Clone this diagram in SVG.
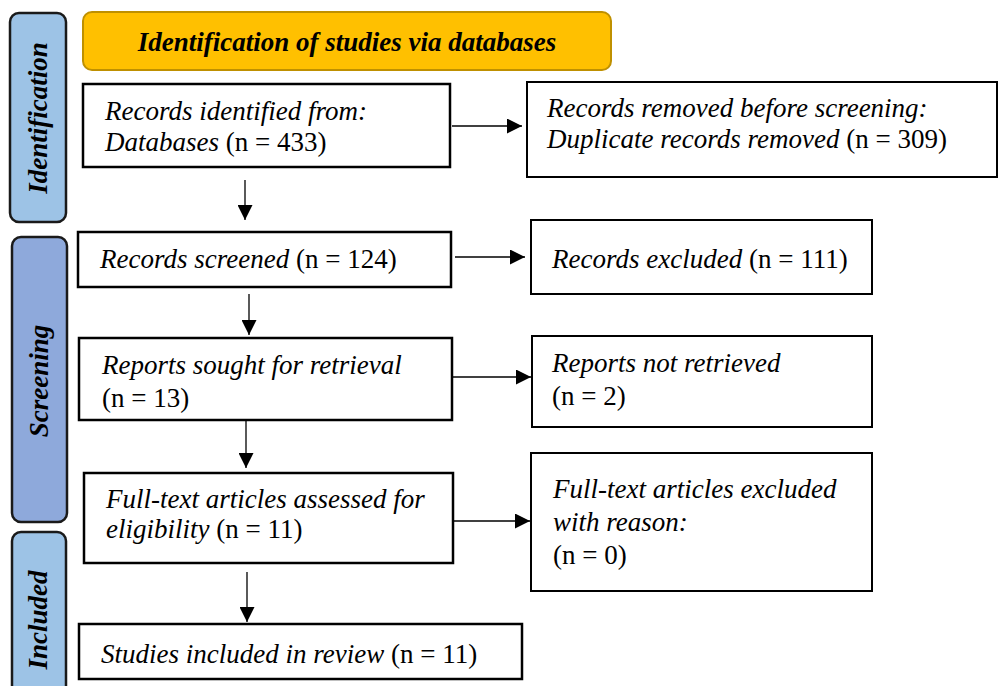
<svg xmlns="http://www.w3.org/2000/svg" width="1000" height="686" viewBox="0 0 1000 686">
<defs>
<marker id="arr" markerUnits="userSpaceOnUse" markerWidth="15" markerHeight="15" refX="15" refY="7.5" orient="auto">
<path d="M0,0 L15,7.5 L0,15 z" fill="#000"/>
</marker>
</defs>
<style>
.box{fill:#fff;stroke:#000;stroke-width:2.5}
.side{stroke:#1a1a1a;stroke-width:2.5}
.t{font-family:"Liberation Serif","Times New Roman",serif;font-size:27px;fill:#000}
.i{font-style:italic}
.b{font-weight:bold;font-style:italic}
.c{stroke:#000;stroke-width:1.3;fill:none;marker-end:url(#arr)}
</style>
<rect width="1000" height="686" fill="#fff"/>

<g id="phase-identification">
<rect class="side" x="10" y="13" width="56" height="209" rx="9" fill="#9DC3E6"/>
<text class="t b" transform="translate(47,118) rotate(-90)" text-anchor="middle">Identification</text>
</g>
<g id="phase-screening">
<rect class="side" x="12" y="237" width="55" height="285" rx="9" fill="#8EA9DB"/>
<text class="t b" transform="translate(48,381) rotate(-90)" text-anchor="middle">Screening</text>
</g>
<g id="phase-included">
<rect class="side" x="12" y="532" width="54" height="180" rx="9" fill="#9DC3E6"/>
<text class="t b" transform="translate(47,620) rotate(-90)" text-anchor="middle">Included</text>
</g>

<g id="header">
<rect x="83" y="12" width="528" height="58" rx="9" fill="#FFC000" stroke="#BF9000" stroke-width="2"/>
<text class="t b" x="347" y="51" text-anchor="middle">Identification of studies via databases</text>
</g>

<g id="records-identified">
<rect class="box" x="83" y="84" width="367" height="83"/>
<text class="t" x="105" y="120"><tspan class="i">Records identified from:</tspan></text>
<text class="t" x="105" y="151"><tspan class="i">Databases</tspan> (n = 433)</text>
</g>

<g id="records-removed">
<rect class="box" x="527" y="82" width="470" height="95" style="stroke-width:2"/>
<text class="t" x="547" y="117"><tspan class="i">Records removed before screening:</tspan></text>
<text class="t" x="547" y="148"><tspan class="i">Duplicate records removed</tspan> (n = 309)</text>
</g>

<g id="records-screened">
<rect class="box" x="78" y="232" width="373" height="55"/>
<text class="t" x="100" y="268"><tspan class="i">Records screened</tspan> (n = 124)</text>
</g>

<g id="records-excluded">
<rect class="box" x="531" y="220" width="341" height="74" style="stroke-width:2"/>
<text class="t" x="552" y="268"><tspan class="i">Records excluded</tspan> (n = 111)</text>
</g>

<g id="reports-sought">
<rect class="box" x="79" y="338" width="373" height="82"/>
<text class="t" x="102" y="374"><tspan class="i">Reports sought for retrieval</tspan></text>
<text class="t" x="102" y="407">(n = 13)</text>
</g>

<g id="reports-not-retrieved">
<rect class="box" x="532" y="336" width="340" height="91" style="stroke-width:2"/>
<text class="t" x="552" y="372"><tspan class="i">Reports not retrieved</tspan></text>
<text class="t" x="552" y="405">(n = 2)</text>
</g>

<g id="full-text-assessed">
<rect class="box" x="84" y="473" width="369" height="90"/>
<text class="t" x="106" y="508"><tspan class="i">Full-text articles assessed for</tspan></text>
<text class="t" x="106" y="538"><tspan class="i">eligibility</tspan> (n = 11)</text>
</g>

<g id="full-text-excluded">
<rect class="box" x="531" y="453" width="341" height="138" style="stroke-width:2"/>
<text class="t" x="553" y="498"><tspan class="i">Full-text articles excluded</tspan></text>
<text class="t" x="553" y="531"><tspan class="i">with reason:</tspan></text>
<text class="t" x="553" y="564">(n = 0)</text>
</g>

<g id="studies-included">
<rect class="box" x="79" y="624" width="443" height="55"/>
<text class="t" x="101" y="663"><tspan class="i">Studies included in review</tspan> (n = 11)</text>
</g>

<g id="connectors">
<line class="c" x1="452" y1="126" x2="522" y2="126"/>
<line class="c" x1="245" y1="180" x2="245" y2="220"/>
<line class="c" x1="455" y1="257" x2="525" y2="257"/>
<line class="c" x1="249" y1="294" x2="249" y2="335"/>
<line class="c" x1="452" y1="377" x2="531" y2="377"/>
<line class="c" x1="246" y1="420" x2="246" y2="468"/>
<line class="c" x1="453" y1="521" x2="530" y2="521"/>
<line class="c" x1="247" y1="572" x2="247" y2="622"/>
</g>
</svg>
